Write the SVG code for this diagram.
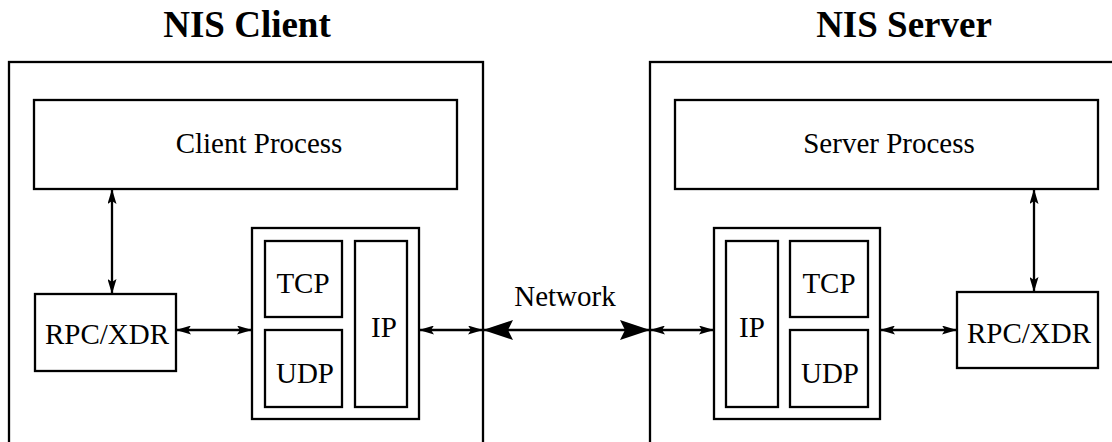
<svg xmlns="http://www.w3.org/2000/svg" width="1112" height="442" viewBox="0 0 1112 442">
<style>
.box{fill:none;stroke:#000;stroke-width:2.3}
.t{font-family:"Liberation Serif","Times New Roman",serif;font-size:29px;fill:#000;text-anchor:middle}
.h{font-family:"Liberation Serif","Times New Roman",serif;font-size:37px;font-weight:bold;fill:#000;text-anchor:middle}
.c{fill:none;stroke:#000;stroke-width:2.3}
</style>
<defs>
<marker id="a" viewBox="0 0 15 9" refX="15" refY="4.5" markerWidth="15" markerHeight="9" markerUnits="userSpaceOnUse" orient="auto-start-reverse">
<path d="M15,4.5 L0,0 L3,4.5 L0,9 Z" fill="#000"/>
</marker>
<marker id="A" viewBox="0 0 30 20" refX="30" refY="10" markerWidth="30" markerHeight="20" markerUnits="userSpaceOnUse" orient="auto-start-reverse">
<path d="M30,10 L0,0 L5,10 L0,20 Z" fill="#000"/>
</marker>
</defs>
<text class="h" x="247" y="37">NIS Client</text>
<text class="h" x="904" y="37">NIS Server</text>
<g id="client">
<rect class="box" x="9" y="62" width="474" height="420"/>
</g>
<g id="server">
<rect class="box" x="650" y="62" width="500" height="420"/>
</g>
<g id="client-process">
<rect class="box" x="34" y="100" width="423" height="89"/>
<text class="t" x="259" y="153">Client Process</text>
</g>
<g id="client-rpc">
<rect class="box" x="35" y="294" width="141" height="77"/>
<text class="t" x="107" y="344">RPC/XDR</text>
</g>
<g id="client-stack">
<rect class="box" x="252" y="228" width="167" height="191"/>
</g>
<g id="client-tcp">
<rect class="box" x="265" y="241" width="77" height="76"/>
<text class="t" x="303" y="293">TCP</text>
</g>
<g id="client-udp">
<rect class="box" x="265" y="330" width="77" height="77"/>
<text class="t" x="305" y="383">UDP</text>
</g>
<g id="client-ip">
<rect class="box" x="355" y="241" width="52" height="166"/>
<text class="t" x="384" y="337">IP</text>
</g>
<g id="server-process">
<rect class="box" x="675" y="100" width="423" height="89"/>
<text class="t" x="889" y="153">Server Process</text>
</g>
<g id="server-rpc">
<rect class="box" x="957" y="292" width="141" height="76"/>
<text class="t" x="1029" y="343">RPC/XDR</text>
</g>
<g id="server-stack">
<rect class="box" x="714" y="228" width="166" height="191"/>
</g>
<g id="server-ip">
<rect class="box" x="726" y="241" width="52" height="166"/>
<text class="t" x="752" y="337">IP</text>
</g>
<g id="server-tcp">
<rect class="box" x="790" y="241" width="78" height="76"/>
<text class="t" x="829" y="293">TCP</text>
</g>
<g id="server-udp">
<rect class="box" x="790" y="330" width="78" height="77"/>
<text class="t" x="830" y="383">UDP</text>
</g>
<text class="t" x="565" y="306">Network</text>
<g id="connectors">
<line class="c" x1="112" y1="189" x2="112" y2="294" marker-start="url(#a)" marker-end="url(#a)"/>
<line class="c" x1="176" y1="330" x2="252" y2="330" marker-start="url(#a)" marker-end="url(#a)"/>
<line class="c" x1="419" y1="330" x2="483" y2="330" marker-start="url(#a)" marker-end="url(#a)"/>
<line class="c" x1="483" y1="330" x2="650" y2="330" marker-start="url(#A)" marker-end="url(#A)"/>
<line class="c" x1="650" y1="330" x2="714" y2="330" marker-start="url(#a)" marker-end="url(#a)"/>
<line class="c" x1="880" y1="330" x2="957" y2="330" marker-start="url(#a)" marker-end="url(#a)"/>
<line class="c" x1="1034" y1="189" x2="1034" y2="292" marker-start="url(#a)" marker-end="url(#a)"/>
</g>
</svg>
